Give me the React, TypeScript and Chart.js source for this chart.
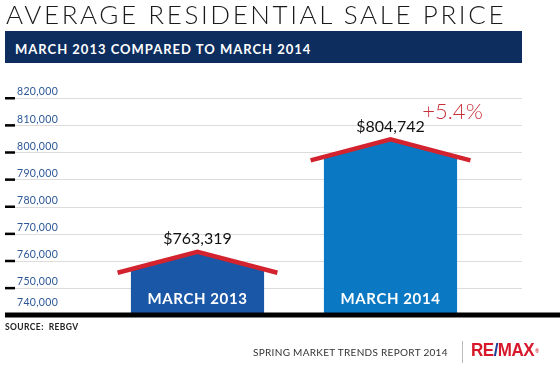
import React, { useEffect, useRef } from "react";
import { Chart, registerables } from "chart.js";

Chart.register(...registerables);

// ---- data ----
const categories: string[] = ["MARCH 2013", "MARCH 2014"];
const values: number[] = [763319, 804742];
const yTicks: number[] = [740000, 750000, 760000, 770000, 780000, 790000, 800000, 810000, 820000];
const barColors: string[] = ["#1a57a6", "#0a78c2"];

const titleText = "AVERAGE RESIDENTIAL SALE PRICE";
const subtitleText = "MARCH 2013 COMPARED TO MARCH 2014";
const sourceText = "SOURCE:  REBGV";
const footerText = "SPRING MARKET TRENDS REPORT 2014";

const ROOF = "#d2232f";
const NAVY = "#0c2d5e";
const TICK_COLOR = "#2b5797";

const fmt = (v: number) => v.toLocaleString("en-US");

const housePlugin = {
  id: "house",
  beforeDatasetsDraw(chart: any) {
    const { ctx, scales } = chart;
    const y = scales.y;
    ctx.save();
    ctx.strokeStyle = "#dcdcdc";
    ctx.lineWidth = 1;
    yTicks.forEach((t, i) => {
      if (i === 0) return;
      const py = Math.round(y.getPixelForValue(t)) + 0.5;
      ctx.beginPath();
      ctx.moveTo(15, py);
      ctx.lineTo(522, py);
      ctx.stroke();
    });
    ctx.restore();
  },
  afterDatasetsDraw(chart: any) {
    const { ctx, scales } = chart;
    const y = scales.y;
    const meta = chart.getDatasetMeta(0);
    const by = y.getPixelForValue(yTicks[0]);
    ctx.save();
    meta.data.forEach((el: any, i: number) => {
      const { x, y: py, base: rawBase, width } = el.getProps(["x", "y", "base", "width"], true);
      const base = Math.min(rawBase, by);
      const hw = width / 2;
      const R = hw * 1.2;
      const D = 21;
      const s = D / R;
      const wallTop = py + s * hw;
      ctx.fillStyle = barColors[i];
      ctx.beginPath();
      ctx.moveTo(x - hw, base);
      ctx.lineTo(x - hw, wallTop);
      ctx.lineTo(x, py);
      ctx.lineTo(x + hw, wallTop);
      ctx.lineTo(x + hw, base);
      ctx.closePath();
      ctx.fill();

      ctx.strokeStyle = ROOF;
      ctx.lineWidth = 4.5;
      ctx.lineJoin = "miter";
      ctx.lineCap = "butt";
      ctx.beginPath();
      ctx.moveTo(x - R, py + D);
      ctx.lineTo(x, py);
      ctx.lineTo(x + R, py + D);
      ctx.stroke();

      ctx.fillStyle = "#111";
      ctx.font = "16px Lato";
      ctx.textAlign = "center";
      ctx.textBaseline = "middle";
      ctx.fillText("$" + fmt(values[i]), x, py - 13);

      ctx.fillStyle = "#ffffff";
      ctx.font = "bold 15px Lato";
      (ctx as any).letterSpacing = "0.6px";
      ctx.fillText(categories[i], x, base - 16);
      (ctx as any).letterSpacing = "0px";
    });

    // baseline
    ctx.fillStyle = "#000";
    ctx.fillRect(5, by - 2.5, 555, 5);

    // ticks
    yTicks.forEach((t, i) => {
      const py = y.getPixelForValue(t);
      ctx.fillStyle = "#000";
      ctx.fillRect(5, py - 1, 10, 2.5);
      ctx.fillStyle = TICK_COLOR;
      ctx.font = "10.5px Lato";
      (ctx as any).letterSpacing = "0.3px";
      ctx.textAlign = "left";
      ctx.textBaseline = "middle";
      ctx.fillText(fmt(t), 17, py - (i === 0 ? 12 : 6));
    });
    (ctx as any).letterSpacing = "0px";

    // change annotation
    const last = meta.data[meta.data.length - 1];
    const pct = ((values[1] - values[0]) / values[0]) * 100;
    ctx.fillStyle = "#c8303a";
    ctx.font = "300 22px Lato";
    ctx.textAlign = "center";
    ctx.textBaseline = "middle";
    ctx.fillText("+" + pct.toFixed(1) + "%", last.x + 62, y.getPixelForValue(815000));
    ctx.restore();
  },
};

export default function App() {
  const ref = useRef<HTMLCanvasElement>(null);
  useEffect(() => {
    document.body.style.margin = "0";
    if (!ref.current) return;
    const chart = new Chart(ref.current, {
      type: "bar",
      data: {
        labels: categories,
        datasets: [
          {
            data: values,
            base: yTicks[0],
            backgroundColor: "rgba(0,0,0,0)",
            borderWidth: 0,
            categoryPercentage: 1,
            barPercentage: 0.69,
          } as any,
        ],
      },
      options: {
        responsive: false,
        animation: false,
        devicePixelRatio: 1,
        layout: { padding: { left: 101, right: 73, top: 98, bottom: 50 } },
        plugins: { legend: { display: false }, tooltip: { enabled: false }, title: { display: false } },
        scales: {
          x: { display: false },
          y: { display: false, min: yTicks[0], max: yTicks[yTicks.length - 1] },
        },
      },
      plugins: [housePlugin],
    });
    return () => chart.destroy();
  }, []);

  return (
    <div style={{ position: "absolute", left: 0, top: 0, width: 560, height: 365, background: "#fff", overflow: "hidden" }}>
      <canvas ref={ref} width={560} height={365} style={{ position: "absolute", left: 0, top: 0, width: 560, height: 365 }} />
      <div
        style={{
          position: "absolute",
          left: 6,
          top: 0,
          fontFamily: "Lato",
          fontWeight: 300,
          fontSize: 26,
          lineHeight: "28px",
          letterSpacing: "2.6px",
          color: "#1a1a1a",
          whiteSpace: "nowrap",
        }}
      >
        {titleText}
      </div>
      <div style={{ position: "absolute", left: 5, top: 31, width: 517, height: 32, background: NAVY }}>
        <div
          style={{
            position: "absolute",
            left: 10,
            top: 0,
            lineHeight: "37px",
            fontFamily: "Lato",
            fontWeight: 700,
            fontSize: 13,
            letterSpacing: "1.0px",
            color: "#fff",
            whiteSpace: "nowrap",
          }}
        >
          {subtitleText}
        </div>
      </div>
      <div
        style={{
          position: "absolute",
          left: 5,
          top: 321,
          fontFamily: "Lato",
          fontWeight: 700,
          fontSize: 8.5,
          lineHeight: "12px",
          letterSpacing: "0.4px",
          color: "#222",
          whiteSpace: "pre",
        }}
      >
        {sourceText}
      </div>
      <div
        style={{
          position: "absolute",
          left: 253,
          top: 345,
          fontFamily: "Lato",
          fontSize: 10,
          lineHeight: "14px",
          letterSpacing: "0.3px",
          color: "#333",
          whiteSpace: "nowrap",
        }}
      >
        {footerText}
      </div>
      <div style={{ position: "absolute", left: 462, top: 341, width: 1, height: 22, background: "#bbb" }} />
      <div
        style={{
          position: "absolute",
          left: 471,
          top: 342,
          fontFamily: "'Liberation Sans Narrow', 'Liberation Sans', sans-serif",
          fontWeight: 700,
          fontSize: 17,
          lineHeight: "18px",
          letterSpacing: "-0.5px",
          color: "#d7182a",
          whiteSpace: "nowrap",
          transform: "scaleY(1.05)",
        }}
      >
        RE<span style={{ color: "#1b3f94" }}>/</span>MAX
        <span style={{ fontSize: 5, verticalAlign: "top", marginLeft: 1 }}>®</span>
      </div>
    </div>
  );
}
